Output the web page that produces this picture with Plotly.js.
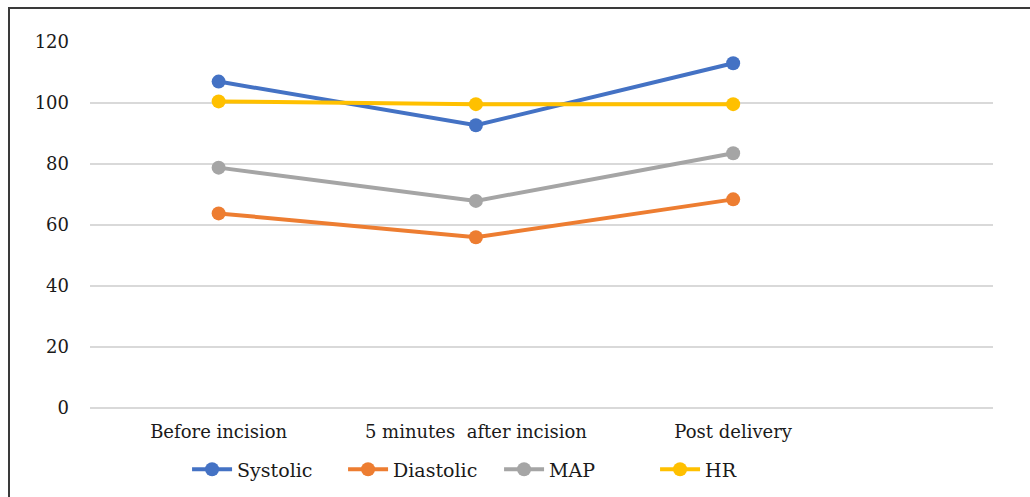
<!DOCTYPE html>
<html>
<head>
<meta charset="utf-8">
<script src="https://cdn.plot.ly/plotly-3.0.1.min.js"></script>
<style>
html,body{margin:0;padding:0;background:#fff;}
#wrap{position:relative;width:1030px;height:497px;}
#chart{width:1030px;height:497px;}
#frame{position:absolute;left:8px;top:7px;width:1030px;height:500px;border-left:2px solid #3a3a3a;border-top:2px solid #3a3a3a;pointer-events:none;}
</style>
</head>
<body>
<div id="wrap"><div id="chart"></div><div id="frame"></div></div>
<script>
const categories = ["Before incision", "5 minutes  after incision", "Post delivery"];
const systolic = [107, 92.7, 113];
const diastolic = [63.8, 56, 68.4];
const mapVals = [78.8, 67.9, 83.5];
const hr = [100.5, 99.6, 99.6];
const seriesNames = ["Systolic", "Diastolic", "MAP", "HR"];
const seriesColors = ["#4472C4", "#ED7D31", "#A5A5A5", "#FFC000"];
const yTicks = [0, 20, 40, 60, 80, 100, 120];

const seriesData = [systolic, diastolic, mapVals, hr];
const traces = seriesData.map((vals, i) => ({
  type: "scatter",
  mode: "lines+markers",
  name: seriesNames[i],
  x: categories,
  y: vals,
  line: {color: seriesColors[i], width: 4},
  marker: {color: seriesColors[i], size: 14}
}));

const serif = "DejaVu Serif";
const layout = {
  width: 1030, height: 497,
  margin: {l: 90, r: 37, t: 41, b: 88, autoexpand: false},
  paper_bgcolor: "#fff",
  plot_bgcolor: "#fff",
  font: {family: serif, size: 18, color: "#1a1a1a"},
  showlegend: true,
  legend: {orientation: "h", x: 0.453, xanchor: "center", y: -0.164, yanchor: "middle",
           entrywidth: 101, entrywidthmode: "pixels",
           font: {family: serif, size: 19, color: "#1a1a1a"}, itemwidth: 40, tracegroupgap: 0},
  xaxis: {
    type: "category",
    range: [-0.5, 3.01],
    showgrid: false, zeroline: false, showline: false,
    ticks: "", ticklen: 0, ticklabelstandoff: 10,
    tickfont: {family: serif, size: 18, color: "#1a1a1a"}
  },
  yaxis: {
    range: [-0.3, 120.3],
    tickvals: yTicks,
    ticktext: yTicks.map(String),
    showgrid: true, gridcolor: "#d9d9d9", gridwidth: 1.3,
    zeroline: true, zerolinecolor: "#d9d9d9", zerolinewidth: 1.3,
    showline: false,
    ticks: "", ticklabelstandoff: 20,
    tickfont: {family: serif, size: 18, color: "#1a1a1a"}
  }
};

Plotly.newPlot("chart", traces, layout, {displayModeBar: false, staticPlot: true});
</script>
</body>
</html>
